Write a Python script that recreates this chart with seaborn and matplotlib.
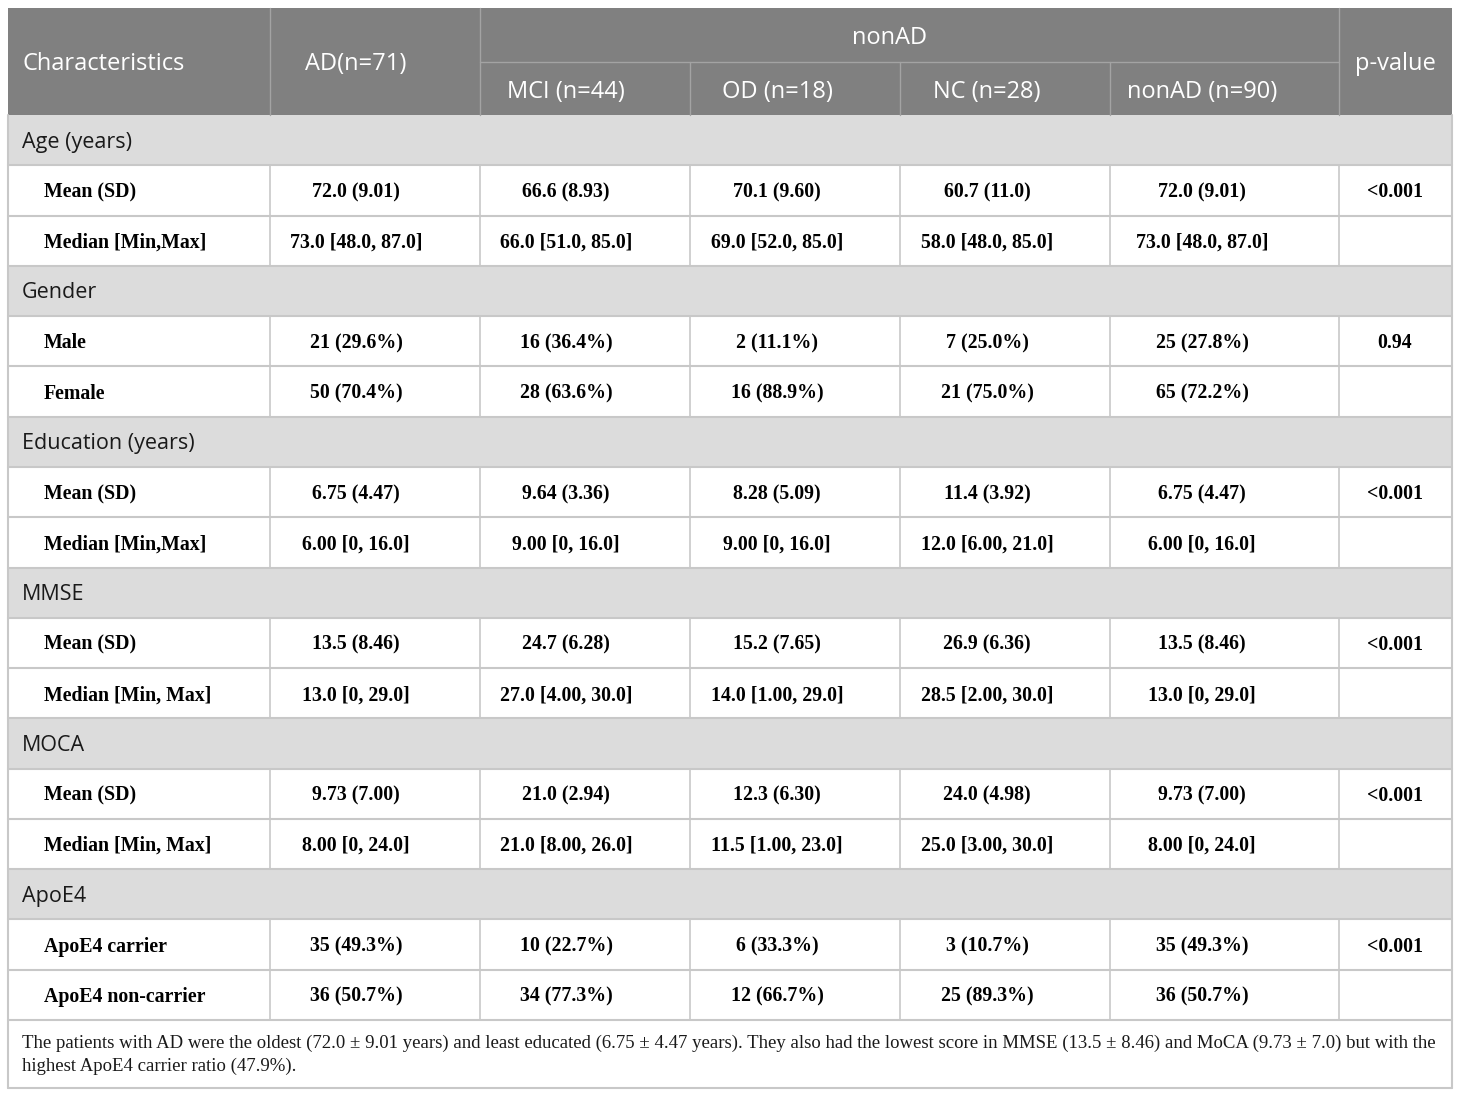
import matplotlib.pyplot as plt
import seaborn as sns
from matplotlib.patches import Rectangle

# table content
sections = ["Age (years)", "Gender", "Education (years)", "MMSE", "MOCA", "ApoE4"]
row_labels = ["Mean (SD)", "Median [Min,Max]",
              "Male", "Female",
              "Mean (SD)", "Median [Min,Max]",
              "Mean (SD)", "Median [Min, Max]",
              "Mean (SD)", "Median [Min, Max]",
              "ApoE4 carrier", "ApoE4 non-carrier"]
ad = ["72.0 (9.01)", "73.0 [48.0, 87.0]", "21 (29.6%)", "50 (70.4%)",
      "6.75 (4.47)", "6.00 [0, 16.0]", "13.5 (8.46)", "13.0 [0, 29.0]",
      "9.73 (7.00)", "8.00 [0, 24.0]", "35 (49.3%)", "36 (50.7%)"]
mci = ["66.6 (8.93)", "66.0 [51.0, 85.0]", "16 (36.4%)", "28 (63.6%)",
       "9.64 (3.36)", "9.00 [0, 16.0]", "24.7 (6.28)", "27.0 [4.00, 30.0]",
       "21.0 (2.94)", "21.0 [8.00, 26.0]", "10 (22.7%)", "34 (77.3%)"]
od = ["70.1 (9.60)", "69.0 [52.0, 85.0]", "2 (11.1%)", "16 (88.9%)",
      "8.28 (5.09)", "9.00 [0, 16.0]", "15.2 (7.65)", "14.0 [1.00, 29.0]",
      "12.3 (6.30)", "11.5 [1.00, 23.0]", "6 (33.3%)", "12 (66.7%)"]
nc = ["60.7 (11.0)", "58.0 [48.0, 85.0]", "7 (25.0%)", "21 (75.0%)",
      "11.4 (3.92)", "12.0 [6.00, 21.0]", "26.9 (6.36)", "28.5 [2.00, 30.0]",
      "24.0 (4.98)", "25.0 [3.00, 30.0]", "3 (10.7%)", "25 (89.3%)"]
nonad = ["72.0 (9.01)", "73.0 [48.0, 87.0]", "25 (27.8%)", "65 (72.2%)",
         "6.75 (4.47)", "6.00 [0, 16.0]", "13.5 (8.46)", "13.0 [0, 29.0]",
         "9.73 (7.00)", "8.00 [0, 24.0]", "35 (49.3%)", "36 (50.7%)"]
pvalues = ["<0.001", "", "0.94", "", "<0.001", "", "<0.001", "", "<0.001", "",
           "<0.001", ""]
group_headers = ["MCI (n=44)", "OD (n=18)", "NC (n=28)", "nonAD (n=90)"]
footnote = ["The patients with AD were the oldest (72.0 \u00b1 9.01 years) and least educated "
            "(6.75 \u00b1 4.47 years). They also had the lowest score in MMSE (13.5 \u00b1 8.46) "
            "and MoCA (9.73 \u00b1 7.0) but with the",
            "highest ApoE4 carrier ratio (47.9%)."]

sns.set_theme(style="white")
plt.rcParams['font.family'] = ['Open Sans', 'DejaVu Sans']

HEAD = "#808080"
SECT = "#dcdcdc"
GRID = "#c8c8c8"
HLINE = "#a3a3a3"

edges = [8, 270, 480, 690, 900, 1110, 1339, 1452]
centers = [356, 566, 777, 987, 1202, 1395]
top = 8
h1 = 62
h2 = 115
rh = (1020 - 115) / 18.0

fig = plt.figure(figsize=(14.6, 10.96), dpi=100)
ax = fig.add_axes([0, 0, 1, 1])
ax.set_xlim(0, 1460)
ax.set_ylim(1096, 0)
ax.axis('off')

L, R = edges[0], edges[-1]

# header
ax.add_patch(Rectangle((L, top), R - L, h2 - top, color=HEAD, lw=0))
for x in [edges[1], edges[2], edges[6]]:
    ax.plot([x, x], [top, h2], color=HLINE, lw=1)
for x in edges[3:6]:
    ax.plot([x, x], [h1, h2], color=HLINE, lw=1)
ax.plot([edges[2], edges[6]], [h1, h1], color=HLINE, lw=1)

hfont = dict(color="white", fontsize=17, va="center")
ax.text(22, (top + h2) / 2 + 3, "Characteristics", ha="left", **hfont)
ax.text(centers[0], (top + h2) / 2 + 3, "AD(n=71)", ha="center", **hfont)
ax.text((edges[2] + edges[6]) / 2 - 20, (top + h1) / 2 + 3, "nonAD", ha="center", **hfont)
ax.text(centers[5], (top + h2) / 2 + 3, "p-value", ha="center", **hfont)
for i, g in enumerate(group_headers):
    ax.text(centers[i + 1], (h1 + h2) / 2 + 3, g, ha="center", **hfont)

# body
cols = [ad, mci, od, nc, nonad, pvalues]
bfont = dict(va="center", fontsize=14.3, fontweight="bold",
             family="Liberation Serif", color="#000000")
y = h2
k = 0
for s in sections:
    ax.add_patch(Rectangle((L, y), R - L, rh, color=SECT, lw=0))
    ax.text(22, y + rh / 2 + 2, s, ha="left", va="center", fontsize=15.5, color="#1a1a1a")
    ax.plot([L, R], [y + rh, y + rh], color=GRID, lw=1.5)
    y += rh
    for j in range(2):
        for x in edges[1:-1]:
            ax.plot([x, x], [y, y + rh], color=GRID, lw=1.2)
        ax.text(44, y + rh / 2 + 2, row_labels[k], ha="left", **bfont)
        for c, col in enumerate(cols):
            ax.text(centers[c], y + rh / 2 + 2, col[k], ha="center", **bfont)
        ax.plot([L, R], [y + rh, y + rh], color=GRID, lw=1.5)
        y += rh
        k += 1

# outer border and footnote
ax.plot([L, L], [h2, 1088], color=GRID, lw=1.5)
ax.plot([R, R], [h2, 1088], color=GRID, lw=1.5)
ax.plot([L, R], [1088, 1088], color=GRID, lw=1.5)
ax.text(22, 1043, footnote[0], ha="left", va="center", fontsize=13.5,
        family="Liberation Serif", color="#1a1a1a")
ax.text(22, 1066, footnote[1], ha="left", va="center", fontsize=13.5,
        family="Liberation Serif", color="#1a1a1a")

fig.savefig("out.png", dpi=100)
